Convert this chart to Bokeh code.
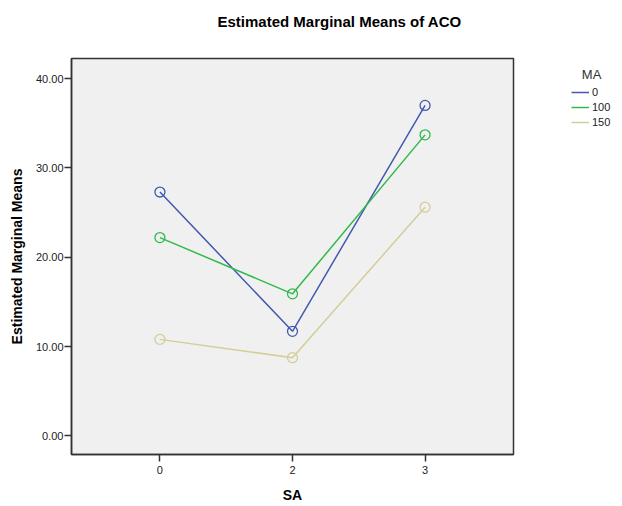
from bokeh.plotting import figure
from bokeh.models import (FactorRange, Range1d, FixedTicker, NumeralTickFormatter,
                          Legend, LegendItem)
from bokeh.embed import file_html
from bokeh.resources import INLINE

# ---- data ----
sa_levels = ["0", "2", "3"]
ma_levels = ["0", "100", "150"]
means_ma0 = [27.3, 11.7, 37.0]
means_ma100 = [22.2, 15.9, 33.7]
means_ma150 = [10.8, 8.75, 25.6]
y_ticks = [0, 10, 20, 30, 40]
colors = ["#4359B0", "#30BA4A", "#D3CE97"]

series = [means_ma0, means_ma100, means_ma150]

FONT = "Liberation Sans"

p = figure(width=622, height=506, output_backend="svg", toolbar_location=None,
           x_range=FactorRange(factors=sa_levels, range_padding=0.167,
                               range_padding_units="absolute"),
           y_range=Range1d(-2.09, 42.25),
           frame_width=442, frame_height=396,
           min_border_left=71, min_border_right=109, min_border_top=58,
           min_border_bottom=52)

p.background_fill_color = "#f0f0f0"
p.border_fill_color = "white"
p.outline_line_color = "#333333"
p.outline_line_width = 1.5
p.xgrid.visible = False
p.ygrid.visible = False

# trailing newline gives the title box a second (empty) line so it sits higher
p.title.text = "Estimated Marginal Means of ACO\n"
p.title.text_font = FONT
p.title.text_font_size = "15px"
p.title.text_font_style = "bold"
p.title.text_color = "black"
p.title.align = "left"
p.title.vertical_align = "top"
p.title.offset = 146
p.title.standoff = 20

p.yaxis.ticker = FixedTicker(ticks=y_ticks)
p.yaxis.formatter = NumeralTickFormatter(format="0.00")
p.yaxis.axis_label = "Estimated Marginal Means"
p.xaxis.axis_label = "SA"
for ax in (p.xaxis, p.yaxis):
    ax.axis_label_text_font = FONT
    ax.axis_label_text_font_size = "14px"
    ax.axis_label_text_font_style = "bold"
    ax.axis_label_text_color = "black"
    ax.major_label_text_font = FONT
    ax.major_label_text_font_size = "11px"
    ax.major_label_text_color = "#222222"
    ax.axis_line_color = "#333333"
    ax.axis_line_width = 1.5
    ax.major_tick_line_color = "#333333"
    ax.major_tick_line_width = 1.5
    ax.major_tick_out = 7
    ax.major_tick_in = 0
    ax.minor_tick_line_color = None
p.xaxis.major_label_standoff = 4
p.xaxis.axis_label_standoff = 10
p.yaxis.major_label_standoff = 1
p.yaxis.axis_label_standoff = 8

items = []
for lvl, vals, col in zip(ma_levels, series, colors):
    r = p.line(x=sa_levels, y=vals, line_color=col, line_width=1.5)
    p.scatter(x=sa_levels, y=vals, marker="circle", size=10, fill_color=None,
              line_color=col, line_width=1.3)
    items.append(LegendItem(label=lvl, renderers=[r]))

legend = Legend(items=items, location=(58, 325), padding=0, margin=0,
                spacing=1, glyph_width=18, glyph_height=14, label_height=14,
                label_standoff=3, label_text_font=FONT, label_text_font_size="11px",
                label_text_color="#222222", border_line_color=None,
                background_fill_alpha=0,
                title="\u00a0\u00a0\u00a0MA", title_text_font=FONT,
                title_text_font_size="13px", title_text_font_style="normal",
                title_text_color="#333333", title_standoff=3)
p.add_layout(legend, "right")

open("out.html", "w").write(file_html(p, INLINE))
